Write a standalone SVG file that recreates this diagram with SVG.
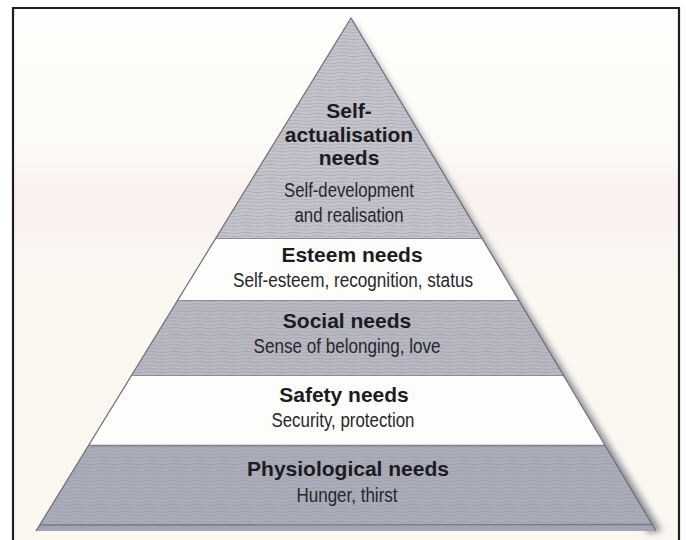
<svg xmlns="http://www.w3.org/2000/svg" width="686" height="540" viewBox="0 0 686 540">
  <style>
    .title { font-family: "Liberation Sans", Arial, sans-serif; font-weight: bold; font-size: 21px; fill: #1b1b21; text-anchor: middle; }
    .sub { font-family: "Liberation Sans", Arial, sans-serif; font-size: 20.5px; fill: #26262c; text-anchor: middle; }
    .grey-top { fill: #c6c4cc; }
    .grey-mid { fill: #b9b9c3; }
    .grey-low { fill: #abadb9; }
    .white { fill: #fdfdfb; }
    .tex { fill: url(#weave); }
    .sep { stroke: #8a8b96; stroke-width: 1; }
  </style>
  <defs>
    <!-- wavy screen texture for the shaded tiers -->
    <pattern id="weave" width="24" height="3.4" patternUnits="userSpaceOnUse">
      <path d="M0 1.7 Q6 0.6 12 1.7 T24 1.7" fill="none" stroke="#8e90a0" stroke-width="0.9" stroke-opacity="0.45"/>
    </pattern>
    <filter id="soft" x="-20%" y="-20%" width="140%" height="140%">
      <feGaussianBlur stdDeviation="3.2"/>
    </filter>
    <linearGradient id="paper" x1="0" y1="0" x2="0" y2="1">
      <stop offset="0" stop-color="#fefefc"/>
      <stop offset="0.25" stop-color="#fdfbf7"/>
      <stop offset="0.35" stop-color="#f9f1ee"/>
      <stop offset="0.5" stop-color="#fbf8f2"/>
      <stop offset="1" stop-color="#faf8f1"/>
    </linearGradient>
  </defs>

  <!-- page -->
  <rect x="0" y="0" width="686" height="540" fill="#ffffff"/>
  <rect x="13" y="8" width="666" height="540" fill="url(#paper)"/>

  <!-- shadow cast along the right face -->
  <polygon points="352,20 662,531 648,533 352,26" fill="#6f6f7a" opacity="0.75" filter="url(#soft)"/>

  <g id="tier-self-actualisation">
    <polygon class="grey-top" points="351,18 482.1,238 216.2,238"/>
    <polygon class="tex" points="351,18 482.1,238 216.2,238"/>
    <text class="title" x="349" y="118">Self-</text>
    <text class="title" x="349" y="142">actualisation</text>
    <text class="title" x="349" y="165">needs</text>
    <text class="sub" x="349" y="197" textLength="130" lengthAdjust="spacingAndGlyphs">Self-development</text>
    <text class="sub" x="349" y="222" textLength="109" lengthAdjust="spacingAndGlyphs">and realisation</text>
  </g>

  <g id="tier-esteem">
    <polygon class="white" points="216.2,238 482.1,238 519,300 178.2,300"/>
    <line class="sep" x1="216.2" y1="238.5" x2="482.1" y2="238.5"/>
    <text class="title" x="352" y="262">Esteem needs</text>
    <text class="sub" x="353" y="287" textLength="240" lengthAdjust="spacingAndGlyphs">Self-esteem, recognition, status</text>
  </g>

  <g id="tier-social">
    <polygon class="grey-mid" points="178.2,300 519,300 563.7,375 132.2,375"/>
    <polygon class="tex" points="178.2,300 519,300 563.7,375 132.2,375"/>
    <line class="sep" x1="178.2" y1="300.5" x2="519" y2="300.5"/>
    <text class="title" x="347" y="328">Social needs</text>
    <text class="sub" x="347" y="353" textLength="187" lengthAdjust="spacingAndGlyphs">Sense of belonging, love</text>
  </g>

  <g id="tier-safety">
    <polygon class="white" points="132.2,375 563.7,375 605.4,445 89.3,445"/>
    <line class="sep" x1="132.2" y1="375.5" x2="563.7" y2="375.5"/>
    <text class="title" x="344" y="402">Safety needs</text>
    <text class="sub" x="343" y="427" textLength="143" lengthAdjust="spacingAndGlyphs">Security, protection</text>
  </g>

  <g id="tier-physiological">
    <polygon class="grey-low" points="89.3,445 605.4,445 656,531 36,531"/>
    <polygon class="tex" points="89.3,445 605.4,445 656,531 36,531"/>
    <line x1="89.3" y1="445.5" x2="605.4" y2="445.5" stroke="#7e808c" stroke-width="1.4"/>
    <!-- front lip of the base slab -->
    <polygon points="40,525 652,525 656,531 36,531" fill="#a2a4b1"/>
    <line x1="40" y1="525" x2="652" y2="524.5" stroke="#777986" stroke-width="1.4"/>
    <text class="title" x="348" y="476">Physiological needs</text>
    <text class="sub" x="347" y="502" textLength="101" lengthAdjust="spacingAndGlyphs">Hunger, thirst</text>
  </g>

  <!-- outline of the left and right faces -->
  <polyline points="36,531 351,18 656,531" fill="none" stroke="#6c6c76" stroke-width="1.2" stroke-linejoin="round"/>

  <!-- frame -->
  <path d="M13,545 V8 H679 V545" fill="none" stroke="#1e1e1e" stroke-width="2.2"/>
</svg>
